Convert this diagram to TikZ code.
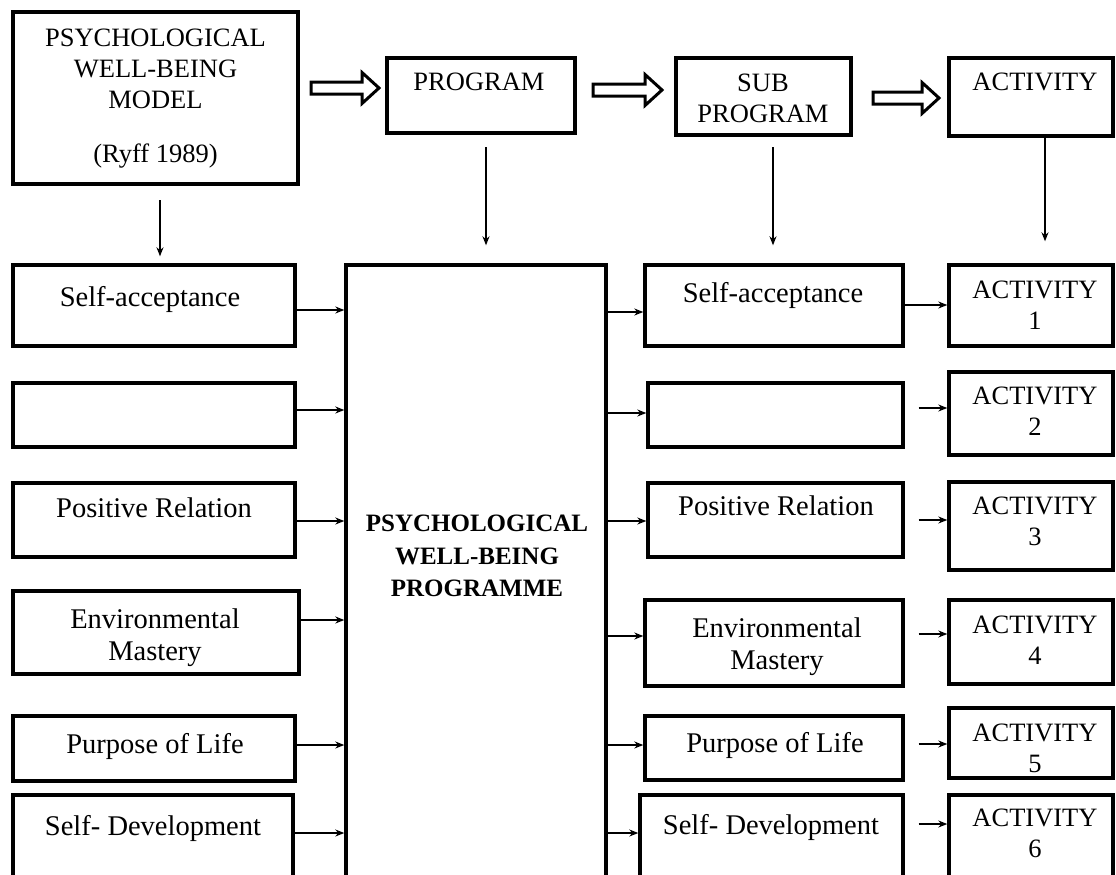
\documentclass[tikz,border=0pt]{standalone}
\usepackage{fontspec}
\setmainfont{Liberation Serif}
\usetikzlibrary{arrows.meta,fit}
\begin{document}
\begin{tikzpicture}[x=1pt,y=-1pt,
  box/.style={draw, line width=3.4pt, inner sep=0pt},
  ctxt/.style={font=\fontsize{26.5}{31}\selectfont, align=center, inner sep=0pt, anchor=north},
  ltxt/.style={font=\fontsize{28.5}{32}\selectfont, align=center, inner sep=0pt, anchor=north},
  btxt/.style={font=\fontsize{25}{32.5}\selectfont\bfseries, align=center, inner sep=0pt, anchor=north},
  arr/.style={line width=1.3pt, -{Stealth[length=9pt,width=7pt]}},
  hollow/.style={draw, line width=3pt, fill=white, line join=miter}]
\useasboundingbox (0,0) rectangle (1116,875);
\clip (0,0) rectangle (1116,875);
\fill[white] (0,0) rectangle (1116,875);

% top row
\node[box, fit={(13,12) (298,184)}] (model) {};
\node[ctxt] (modelt) at (155.5,29) {PSYCHOLOGICAL\\WELL-BEING\\MODEL\\[23pt](Ryff 1989)};
\node[box, fit={(387,58) (575,133)}] (prog) {};
\node[ctxt] (progt) at (479,73) {PROGRAM};
\node[box, fit={(676,58) (851,135)}] (sub) {};
\node[ctxt] (subt) at (763,74) {SUB\\PROGRAM};
\node[box, fit={(949,58) (1113,136)}] (act) {};
\node[ctxt] (actt) at (1035,73) {ACTIVITY};

% hollow arrows
\newcommand\harrow[3]{\draw[hollow] (#1,#3-6) -- (#2-17,#3-6) -- (#2-17,#3-15.5) -- (#2,#3) -- (#2-17,#3+15.5) -- (#2-17,#3+6) -- (#1,#3+6) -- cycle;}
\harrow{311}{379}{88}
\harrow{593}{662}{90}
\harrow{873}{939}{98}

% left column
\node[box, fit={(13,265) (295,346)}] (l1) {};
\node[ltxt] (l1t) at (150,286) {Self-acceptance};
\node[box, fit={(13,383) (295,447)}] (l2) {};
\node[box, fit={(13,483) (295,557)}] (l3) {};
\node[ltxt] (l3t) at (154,498) {Positive Relation};
\node[box, fit={(13,591) (299,674)}] (l4) {};
\node[ltxt] (l4t) at (155,609) {Environmental\\Mastery};
\node[box, fit={(13,716) (295,781)}] (l5) {};
\node[ltxt] (l5t) at (155,733) {Purpose of Life};
\node[box, fit={(13,795) (293,900)}] (l6) {};
\node[ltxt] (l6t) at (153,815) {Self- Development};

% central box
\node[box, fit={(346,265) (606,900)}] (pwb) {};
\node[btxt] (pwbt) at (477,515) {PSYCHOLOGICAL\\WELL-BEING\\PROGRAMME};

% middle column
\node[box, fit={(645,265) (903,346)}] (m1) {};
\node[ltxt] (m1t) at (773,282) {Self-acceptance};
\node[box, fit={(648,383) (903,447)}] (m2) {};
\node[box, fit={(648,483) (903,557)}] (m3) {};
\node[ltxt] (m3t) at (776,496) {Positive Relation};
\node[box, fit={(645,600) (903,686)}] (m4) {};
\node[ltxt] (m4t) at (777,618) {Environmental\\Mastery};
\node[box, fit={(645,716) (903,780)}] (m5) {};
\node[ltxt] (m5t) at (775,732) {Purpose of Life};
\node[box, fit={(640,795) (903,900)}] (m6) {};
\node[ltxt] (m6t) at (771,814) {Self- Development};

% activity column
\node[box, fit={(949,265) (1113,346)}] (a1) {};
\node[ctxt] (a1t) at (1035,281) {ACTIVITY\\1};
\node[box, fit={(949,372) (1113,455)}] (a2) {};
\node[ctxt] (a2t) at (1035,387) {ACTIVITY\\2};
\node[box, fit={(949,482) (1113,570)}] (a3) {};
\node[ctxt] (a3t) at (1035,497) {ACTIVITY\\3};
\node[box, fit={(949,600) (1113,684)}] (a4) {};
\node[ctxt] (a4t) at (1035,616) {ACTIVITY\\4};
\node[box, fit={(949,708) (1113,778)}] (a5) {};
\node[ctxt] (a5t) at (1035,724) {ACTIVITY\\5};
\node[box, fit={(949,795) (1113,900)}] (a6) {};
\node[ctxt] (a6t) at (1035,809) {ACTIVITY\\6};

% down arrows
\draw[arr, shorten >=7pt] (160,200) -- (l1.north -| 160,0);
\draw[arr, shorten >=18pt] (486,147) -- (pwb.north -| 486,0);
\draw[arr, shorten >=18pt] (773,147) -- (m1.north -| 773,0);
\draw[arr, shorten >=22pt] (act.south -| 1045,0) -- (a1.north -| 1045,0);

% left -> centre
\foreach \n/\y in {l1/310, l2/410, l3/521, l4/620, l5/745, l6/833}
  \draw[arr] (\n.east |- 0,\y) -- (pwb.west |- 0,\y);
% centre -> middle
\foreach \n/\y in {m1/312, m2/413, m3/521, m4/636, m5/745, m6/833}
  \draw[arr] (pwb.east |- 0,\y) -- (\n.west |- 0,\y);
% middle -> activity
\draw[arr] (m1.east |- 0,305) -- (a1.west |- 0,305);
\foreach \n/\y in {2/408, 3/520, 4/634, 5/744, 6/824}
  \draw[arr, shorten <=14pt] (m\n.east |- 0,\y) -- (a\n.west |- 0,\y);
\end{tikzpicture}
\end{document}
